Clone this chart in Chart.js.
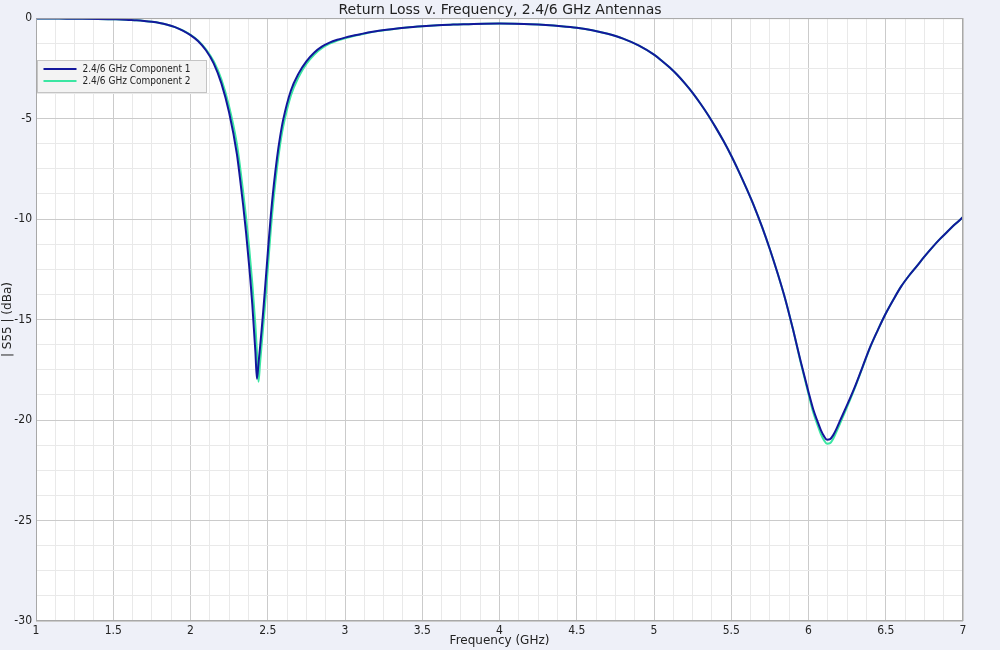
<!DOCTYPE html>
<html>
<head>
<meta charset="utf-8">
<script src="https://cdn.jsdelivr.net/npm/chart.js@4.4.1/dist/chart.umd.min.js"></script>
<style>
  html, body { margin: 0; padding: 0; background: #eef0f8; }
  #wrap { width: 1000px; height: 650px; position: relative; }
</style>
</head>
<body>
<div id="wrap"><canvas id="c" width="1000" height="650"></canvas></div>
<script>
// ---- data ----
const titleText = 'Return Loss v. Frequency, 2.4/6 GHz Antennas';
const xTitle = 'Frequency (GHz)';
const yTitle = '| S55 | (dBa)';
const seriesNames = ['2.4/6 GHz Component 1', '2.4/6 GHz Component 2'];

const freqGHz = [
  1.0, 1.1, 1.2, 1.3, 1.4, 1.5, 1.55, 1.6, 1.65, 1.7, 1.75, 1.8, 1.85, 1.9, 1.95,
  2.0, 2.05, 2.1, 2.15, 2.2, 2.25,
  2.30, 2.32, 2.34, 2.36, 2.38, 2.40, 2.42, 2.43, 2.44, 2.45, 2.46, 2.47, 2.48, 2.50, 2.52, 2.54, 2.56, 2.58, 2.60,
  2.65, 2.70, 2.75, 2.80, 2.85, 2.90, 2.95, 3.0, 3.05, 3.1, 3.15, 3.2, 3.3, 3.4, 3.5, 3.6, 3.7, 3.8, 3.9,
  4.0, 4.1, 4.2, 4.3, 4.4, 4.5, 4.6, 4.7, 4.8, 4.9,
  5.0, 5.05, 5.1, 5.15, 5.2, 5.25, 5.3, 5.35, 5.4, 5.45, 5.5, 5.55, 5.6, 5.65, 5.7, 5.75, 5.8, 5.85, 5.9, 5.95,
  6.0, 6.03, 6.06, 6.08, 6.1, 6.12, 6.14, 6.16, 6.18, 6.2, 6.25, 6.3, 6.35, 6.4, 6.45, 6.5, 6.55, 6.6, 6.65, 6.7, 6.75, 6.8, 6.85, 6.9, 6.95, 7.0
];

const comp1 = [
  -0.02, -0.02, -0.03, -0.03, -0.04, -0.06, -0.07, -0.09, -0.11, -0.14, -0.18, -0.24, -0.33, -0.45, -0.62,
  -0.85, -1.15, -1.6, -2.25, -3.25, -4.7,
  -6.75, -7.95, -9.25, -10.7, -12.35, -14.25, -16.6, -17.95, -17.2, -16.4, -15.55, -14.65, -13.7, -11.7, -9.8, -8.25, -6.95, -5.9, -5.05,
  -3.6, -2.75, -2.15, -1.72, -1.42, -1.22, -1.08, -0.97, -0.88, -0.8, -0.72, -0.65, -0.55, -0.47, -0.41, -0.36, -0.32, -0.3, -0.28,
  -0.27, -0.28, -0.3, -0.34, -0.4, -0.48, -0.6, -0.78, -1.02, -1.36,
  -1.82, -2.12, -2.45, -2.82, -3.25, -3.72, -4.25, -4.82, -5.45, -6.12, -6.85, -7.65, -8.5, -9.4, -10.4, -11.5, -12.7, -14.0, -15.5, -17.1,
  -18.6, -19.45, -20.1, -20.5, -20.8, -20.98, -20.95, -20.75, -20.45, -20.1, -19.25, -18.35, -17.35, -16.35, -15.5, -14.7, -14.0, -13.35, -12.82, -12.35, -11.87, -11.42, -11.0, -10.62, -10.25, -9.9
];

const comp2 = [
  -0.02, -0.02, -0.03, -0.03, -0.04, -0.06, -0.07, -0.09, -0.11, -0.14, -0.18, -0.24, -0.33, -0.45, -0.61,
  -0.83, -1.12, -1.55, -2.15, -3.05, -4.4,
  -6.25, -7.35, -8.6, -9.95, -11.45, -13.2, -15.3, -16.6, -18.1, -17.2, -16.3, -15.4, -14.5, -12.5, -10.5, -8.85, -7.45, -6.3, -5.4,
  -3.85, -2.93, -2.28, -1.82, -1.5, -1.27, -1.12, -1.0, -0.9, -0.82, -0.73, -0.66, -0.56, -0.47, -0.41, -0.36, -0.32, -0.3, -0.28,
  -0.27, -0.28, -0.3, -0.34, -0.4, -0.48, -0.6, -0.78, -1.02, -1.36,
  -1.82, -2.12, -2.45, -2.82, -3.25, -3.72, -4.25, -4.82, -5.45, -6.12, -6.85, -7.65, -8.5, -9.4, -10.4, -11.5, -12.7, -14.0, -15.5, -17.15,
  -18.7, -19.6, -20.28, -20.7, -21.0, -21.18, -21.15, -20.93, -20.6, -20.25, -19.35, -18.4, -17.38, -16.37, -15.5, -14.7, -14.0, -13.35, -12.82, -12.35, -11.87, -11.42, -11.0, -10.62, -10.25, -9.9
];

const seriesColors = ['#13179c', '#3be6a2'];

// ---- chart ----
const FONT_C = "'DejaVu Sans Condensed', 'DejaVu Sans', sans-serif";
const FONT = "'DejaVu Sans', sans-serif";

function toPts(ys) { return freqGHz.map((f, i) => ({ x: f, y: ys[i] })); }
function isMajor(v, step) { const r = v / step; return Math.abs(r - Math.round(r)) < 1e-6; }

const frame = {
  id: 'frame',
  beforeDraw(chart) {
    const a = chart.chartArea, ctx = chart.ctx;
    ctx.save();
    ctx.fillStyle = '#ffffff';
    ctx.fillRect(a.left, a.top, a.right - a.left, a.bottom - a.top);
    ctx.restore();
  },
  afterDraw(chart) {
    const a = chart.chartArea, ctx = chart.ctx;
    ctx.save();
    ctx.strokeStyle = '#a8a8a8';
    ctx.lineWidth = 1;
    ctx.strokeRect(a.left + 0.5, a.top + 0.5, a.right - a.left - 1, a.bottom - a.top - 1);
    // legend box
    const bx = a.left + 1.5, by = 60.5, bw = 169, bh = 32;
    ctx.fillStyle = '#f3f3f3';
    ctx.fillRect(bx, by, bw, bh);
    ctx.strokeStyle = '#c4c4c4';
    ctx.strokeRect(bx, by, bw, bh);
    ctx.font = '10px ' + FONT_C;
    ctx.textBaseline = 'middle';
    chart.data.datasets.forEach((ds, i) => {
      const yy = by + 8.5 + i * 12;
      ctx.strokeStyle = ds.borderColor;
      ctx.lineWidth = 2;
      ctx.beginPath();
      ctx.moveTo(bx + 6, yy);
      ctx.lineTo(bx + 39, yy);
      ctx.stroke();
      ctx.fillStyle = '#222';
      ctx.fillText(ds.label, bx + 45, yy);
    });
    ctx.restore();
  }
};

new Chart(document.getElementById('c'), {
  type: 'line',
  data: {
    datasets: [
      { label: seriesNames[0], data: toPts(comp1), borderColor: seriesColors[0], borderWidth: 2, pointRadius: 0, cubicInterpolationMode: 'monotone', fill: false },
      { label: seriesNames[1], data: toPts(comp2), borderColor: seriesColors[1], borderWidth: 2, pointRadius: 0, cubicInterpolationMode: 'monotone', fill: false }
    ]
  },
  options: {
    responsive: false,
    animation: false,
    devicePixelRatio: 1,
    layout: { padding: 0 },
    plugins: {
      legend: { display: false },
      tooltip: { enabled: false },
      title: {
        display: true, text: titleText, color: '#222',
        font: { family: FONT, size: 14, weight: 'normal', lineHeight: 1.15 },
        padding: { top: 2, bottom: 0 }
      }
    },
    scales: {
      x: {
        type: 'linear', min: 1, max: 7,
        afterFit(s) { s.height = 29; },
        border: { display: false },
        grid: {
          drawTicks: false,
          color: (c) => isMajor(c.tick.value, 0.5) ? '#cbcbcb' : '#e9e9e9',
          lineWidth: 1
        },
        ticks: {
          stepSize: 0.125, autoSkip: false, maxRotation: 0, padding: 3,
          color: '#222', font: { family: FONT_C, size: 12 },
          callback: (v) => isMajor(v, 0.5) ? String(Math.round(v * 10) / 10) : ''
        },
        title: { display: true, text: xTitle, color: '#222', font: { family: FONT, size: 12 }, padding: { top: 0, bottom: 2 } }
      },
      y: {
        type: 'linear', min: -30, max: 0,
        afterFit(s) { s.width = 36; },
        border: { display: false },
        grid: {
          drawTicks: false,
          color: (c) => isMajor(c.tick.value, 5) ? '#cbcbcb' : '#e9e9e9',
          lineWidth: 1
        },
        ticks: {
          stepSize: 1.25, autoSkip: false, padding: 4,
          color: '#222', font: { family: FONT_C, size: 12 },
          callback: (v) => isMajor(v, 5) ? String(Math.round(v)) : ''
        },
        title: { display: true, text: yTitle, color: '#222', font: { family: FONT, size: 12 }, padding: { top: 1, bottom: 0 } }
      },
      yRight: {
        type: 'linear', position: 'right', min: -30, max: 0,
        afterFit(s) { s.width = 37; },
        border: { display: false },
        grid: { display: false, drawOnChartArea: false },
        ticks: { display: false }
      }
    }
  },
  plugins: [frame]
});
</script>
</body>
</html>
